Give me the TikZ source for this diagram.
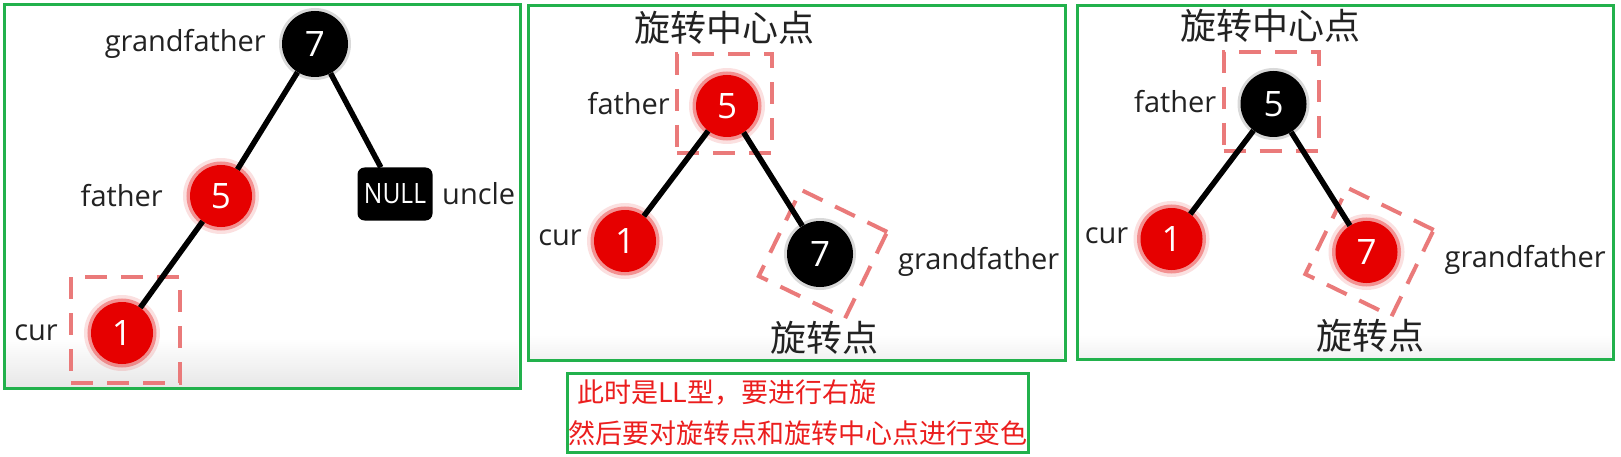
\documentclass[tikz,border=0pt]{standalone}
\usepackage{fontspec}
\usepackage{graphicx}
\setmainfont{Open Sans}
\newfontfamily\cjk{Noto Sans CJK SC}
\definecolor{boxgreen}{RGB}{34,177,76}
\definecolor{rbred}{RGB}{230,0,0}
\definecolor{dashred}{RGB}{234,122,122}
\definecolor{labelgray}{RGB}{34,34,34}
\definecolor{notered}{RGB}{235,30,30}
\tikzset{
  panel/.style={draw=boxgreen, line width=3pt},
  edge/.style={line width=5.5pt, black},
  rednode/.style={circle, fill=rbred, minimum size=62pt, inner sep=0pt, text=white,
    font=\fontsize{35}{40}\selectfont,
    preaction={draw=rbred, draw opacity=0.12, line width=14pt},
    preaction={draw=rbred, draw opacity=0.35, line width=7pt}},
  blacknode/.style={circle, fill=black, minimum size=66pt, inner sep=0pt, text=white,
    font=\fontsize{35}{40}\selectfont,
    preaction={draw=black, draw opacity=0.15, line width=6pt}},
  nullnode/.style={rectangle, rounded corners=7pt, fill=black, minimum width=75pt,
    minimum height=53pt, inner sep=0pt, text=white, font=\fontsize{28}{32}\selectfont},
  lbl/.style={text=labelgray, font=\fontsize{29}{34}\selectfont, inner sep=0pt},
  cjklbl/.style={text=labelgray, font=\cjk\fontsize{36}{40}\selectfont, inner sep=0pt},
  hl/.style={draw=dashred, line width=4pt, dash pattern=on 22pt off 14pt, inner sep=0pt},
  note/.style={text=notered, font=\cjk\fontsize{27}{30}\selectfont, inner sep=0pt, anchor=west},
}
\begin{document}
\begin{tikzpicture}[x=1pt,y=-1pt]
\useasboundingbox (0,0) rectangle (1621,457);
\fill[white] (0,0) rectangle (1621,457);

% ---------- Panel 1 ----------
\shade[top color=white, bottom color=gray!18] (6,338) rectangle (518,386);
\node[hl, minimum width=109pt, minimum height=106pt] (p1hl) at (125.5,330) {};
\node[blacknode] (p1n7) at (315,44) {7};
\node[rednode] (p1n5) at (221,196) {5};
\node[rednode] (p1n1) at (122,333) {1};
\node[nullnode] (p1null) at (395,194) {\scalebox{0.88}[1]{NULL}};
\node[lbl, anchor=east] (p1l7) at (266,44) {grandfather};
\node[lbl, anchor=east] (p1l5) at (163,196) {father};
\node[lbl, anchor=east] (p1l1) at (58,333) {cur};
\node[lbl, anchor=west] (p1lnull) at (442,194) {uncle};
\draw[edge] (p1n7) -- (p1n5);
\draw[edge] (p1n7) -- (p1null);
\draw[edge] (p1n5) -- (p1n1);
\draw[panel] (4,5) rectangle (520,388);

% ---------- Panel 2 ----------
\shade[top color=white, bottom color=gray!10] (530,335) rectangle (1063,358);
\node[hl, minimum width=95pt, minimum height=99pt] (p2hl5) at (724.5,103.5) {};
\node[hl, minimum size=96pt, rotate=-26] (p2hl7) at (823,254) {};
\node[rednode] (p2n5) at (727,106) {5};
\node[rednode] (p2n1) at (625,241) {1};
\node[blacknode] (p2n7) at (820,254) {7};
\node[cjklbl] (p2top) at (724,28) {旋转中心点};
\node[cjklbl] (p2bot) at (824,338) {旋转点};
\node[lbl, anchor=east] (p2l5) at (670,104) {father};
\node[lbl, anchor=east] (p2l1) at (582,238) {cur};
\node[lbl, anchor=west] (p2l7) at (898,262) {grandfather};
\draw[edge] (p2n5) -- (p2n1);
\draw[edge] (p2n5) -- (p2n7);
\draw[panel] (528,6) rectangle (1065,360);

% ---------- Panel 3 ----------
\shade[top color=white, bottom color=gray!10] (1079,335) rectangle (1611,357);
\node[hl, minimum width=95pt, minimum height=99pt] (p3hl5) at (1271,101.5) {};
\node[hl, minimum size=96pt, rotate=-26] (p3hl7) at (1369.5,252) {};
\node[blacknode] (p3n5) at (1273.5,104) {5};
\node[rednode] (p3n1) at (1171.5,239) {1};
\node[rednode] (p3n7) at (1366.5,252) {7};
\node[cjklbl] (p3top) at (1270.5,26) {旋转中心点};
\node[cjklbl] (p3bot) at (1370.5,336) {旋转点};
\node[lbl, anchor=east] (p3l5) at (1216.5,102) {father};
\node[lbl, anchor=east] (p3l1) at (1128.5,236) {cur};
\node[lbl, anchor=west] (p3l7) at (1444.5,260) {grandfather};
\draw[edge] (p3n5) -- (p3n1);
\draw[edge] (p3n5) -- (p3n7);
\draw[panel] (1077,6) rectangle (1613,359);

% ---------- Note box ----------
\node[note] (t1) at (577,393) {此时是LL型，要进行右旋};
\node[note] (t2) at (568,433) {然后要对旋转点和旋转中心点进行变色};
\draw[panel] (567,373) rectangle (1028,452);
\end{tikzpicture}
\end{document}
